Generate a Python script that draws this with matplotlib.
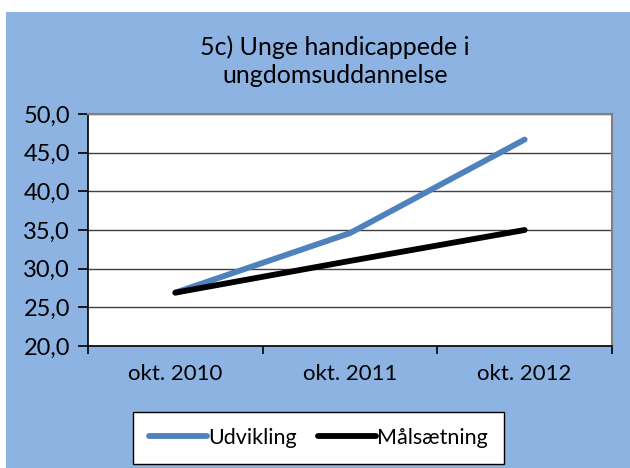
import matplotlib

matplotlib.use("Agg")
import matplotlib.pyplot as plt
from matplotlib.patches import Rectangle
from matplotlib.ticker import FuncFormatter, MultipleLocator

plt.rcParams["font.family"] = ["Lato", "DejaVu Sans"]

BG_BLUE = "#8DB3E2"
LINE_BLUE = "#4F81BD"

categories = ["okt. 2010", "okt. 2011", "okt. 2012"]
udvikling = [26.9, 34.6, 46.7]
maalsaetning = [26.9, 31.0, 35.0]

W, H = 630, 468
fig = plt.figure(figsize=(W / 100, H / 100), dpi=100, facecolor="white")

# blue chart area, small white margin at top and left
fig.patches.append(
    Rectangle((6 / W, 0), 1 - 6 / W, 1 - 12 / H, transform=fig.transFigure,
              facecolor=BG_BLUE, edgecolor="none", zorder=-10)
)

ax = fig.add_axes([88 / W, (H - 346) / H, 524 / W, 232 / H])
ax.set_facecolor("white")

x = list(range(len(categories)))
ax.plot(x, udvikling, color=LINE_BLUE, lw=4.2, solid_capstyle="round",
        solid_joinstyle="round", label="Udvikling", zorder=3)
ax.plot(x, maalsaetning, color="black", lw=4.2, solid_capstyle="round",
        solid_joinstyle="round", label="Målsætning", zorder=3)

ax.set_xlim(-0.5, len(categories) - 0.5)
ax.set_ylim(20, 50)
ax.yaxis.set_major_locator(MultipleLocator(5))
ax.yaxis.set_major_formatter(FuncFormatter(lambda v, _: f"{v:.1f}".replace(".", ",")))
ax.set_xticks(x)
ax.set_xticklabels(categories)
ax.set_xticks([i - 0.5 for i in range(len(categories) + 1)], minor=True)
ax.tick_params(axis="x", which="major", length=0, labelsize=16, pad=13)
ax.tick_params(axis="x", which="minor", length=6, width=1.2, color="black")
ax.tick_params(axis="y", length=7, width=1.2, color="black", labelsize=17, pad=6)

ax.grid(axis="y", color="#404040", lw=1.0, zorder=1)
ax.set_axisbelow(True)
for side in ["top", "right"]:
    ax.spines[side].set_color("#808080")
    ax.spines[side].set_linewidth(1.5)
for side in ["left", "bottom"]:
    ax.spines[side].set_color("black")
    ax.spines[side].set_linewidth(1.2)

fig.text(335 / W, 1 - 61 / H, "5c) Unge handicappede i\nungdomsuddannelse",
         ha="center", va="center", fontsize=18, linespacing=1.25)

leg = fig.legend(loc="center", bbox_to_anchor=(318.5 / W, 1 - 438 / H), ncol=2,
                 fontsize=15.5, frameon=True, fancybox=False, edgecolor="black",
                 handlelength=2.7, handletextpad=0.05, columnspacing=1.0,
                 borderpad=0.75)
leg.get_frame().set_linewidth(1.0)
leg.get_frame().set_facecolor("white")
leg.get_frame().set_alpha(1)

fig.savefig("out.png", dpi=100, facecolor="white")
